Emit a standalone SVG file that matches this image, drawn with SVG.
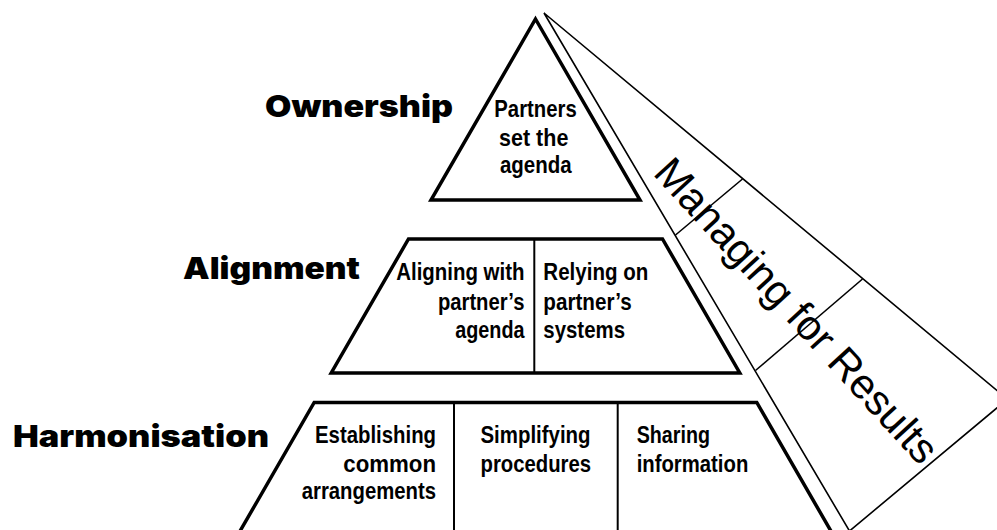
<svg xmlns="http://www.w3.org/2000/svg" width="997" height="530" viewBox="0 0 997 530">
  <style>
    .bg { fill: #ffffff; }
    .level { fill: #ffffff; stroke: #000000; stroke-width: 3.5; stroke-linejoin: miter; }
    .div { fill: none; stroke: #000000; stroke-width: 2; }
    .thin { fill: none; stroke: #000000; stroke-width: 1.6; stroke-linejoin: bevel; }
    .heavy { font-family: "Inter", "Lato", "DejaVu Sans", sans-serif; font-weight: 900; font-size: 30px; fill: #000000; }
    .cell { font-family: "Liberation Sans Narrow", "Liberation Sans", Arial, sans-serif; font-weight: bold; font-size: 24px; fill: #000000; }
    .mfr { font-family: "Liberation Sans", Arial, sans-serif; font-size: 42px; fill: #000000; }
  </style>
  <rect class="bg" x="0" y="0" width="997" height="530"/>

  <g id="managing-for-results">
    <polygon class="thin" points="544,13 1007.4,399.2 849.5,531"/>
    <line class="thin" x1="675.5" y1="235" x2="742.5" y2="179"/>
    <line class="thin" x1="755.5" y1="370.5" x2="862.5" y2="279"/>
    <text class="mfr" x="652" y="174" transform="rotate(47.5 652 174)">Managing for Results</text>
  </g>

  <g id="ownership">
    <polygon class="level" points="535.5,19 640,200 431,200"/>
    <text class="heavy" x="265" y="116.5" textLength="188" lengthAdjust="spacingAndGlyphs">Ownership</text>
    <g class="cell" text-anchor="middle">
      <text x="535.5" y="117" textLength="82.4" lengthAdjust="spacingAndGlyphs">Partners</text>
      <text x="533.7" y="146" textLength="69.3" lengthAdjust="spacingAndGlyphs">set the</text>
      <text x="535.8" y="173" textLength="71.7" lengthAdjust="spacingAndGlyphs">agenda</text>
    </g>
  </g>

  <g id="alignment">
    <polygon class="level" points="408.5,239 662.5,239 739.8,373 331.2,373"/>
    <line class="div" x1="534.3" y1="239" x2="534.3" y2="373"/>
    <text class="heavy" x="183" y="279" textLength="177" lengthAdjust="spacingAndGlyphs">Alignment</text>
    <g class="cell" text-anchor="end">
      <text x="524.5" y="280" textLength="128.3" lengthAdjust="spacingAndGlyphs">Aligning with</text>
      <text x="524.5" y="310" textLength="86.6" lengthAdjust="spacingAndGlyphs">partner’s</text>
      <text x="524.5" y="338" textLength="69.3" lengthAdjust="spacingAndGlyphs">agenda</text>
    </g>
    <g class="cell">
      <text x="543.3" y="280" textLength="105" lengthAdjust="spacingAndGlyphs">Relying on</text>
      <text x="543.3" y="310" textLength="88.4" lengthAdjust="spacingAndGlyphs">partner’s</text>
      <text x="543.3" y="338" textLength="81.7" lengthAdjust="spacingAndGlyphs">systems</text>
    </g>
  </g>

  <g id="harmonisation">
    <polygon class="level" points="314.2,402.5 756.8,402.5 836.1,540 234.9,540"/>
    <line class="div" x1="454" y1="402.5" x2="454" y2="540"/>
    <line class="div" x1="617.7" y1="402.5" x2="617.7" y2="540"/>
    <text class="heavy" x="13" y="446.5" textLength="256" lengthAdjust="spacingAndGlyphs">Harmonisation</text>
    <g class="cell" text-anchor="end">
      <text x="436" y="443" textLength="121" lengthAdjust="spacingAndGlyphs">Establishing</text>
      <text x="436" y="471.5" textLength="92.7" lengthAdjust="spacingAndGlyphs">common</text>
      <text x="436" y="499" textLength="134.3" lengthAdjust="spacingAndGlyphs">arrangements</text>
    </g>
    <g class="cell">
      <text x="480.5" y="443" textLength="110" lengthAdjust="spacingAndGlyphs">Simplifying</text>
      <text x="480.5" y="471.5" textLength="110.5" lengthAdjust="spacingAndGlyphs">procedures</text>
      <text x="636.7" y="443" textLength="73.3" lengthAdjust="spacingAndGlyphs">Sharing</text>
      <text x="636.7" y="471.5" textLength="111.6" lengthAdjust="spacingAndGlyphs">information</text>
    </g>
  </g>
</svg>
